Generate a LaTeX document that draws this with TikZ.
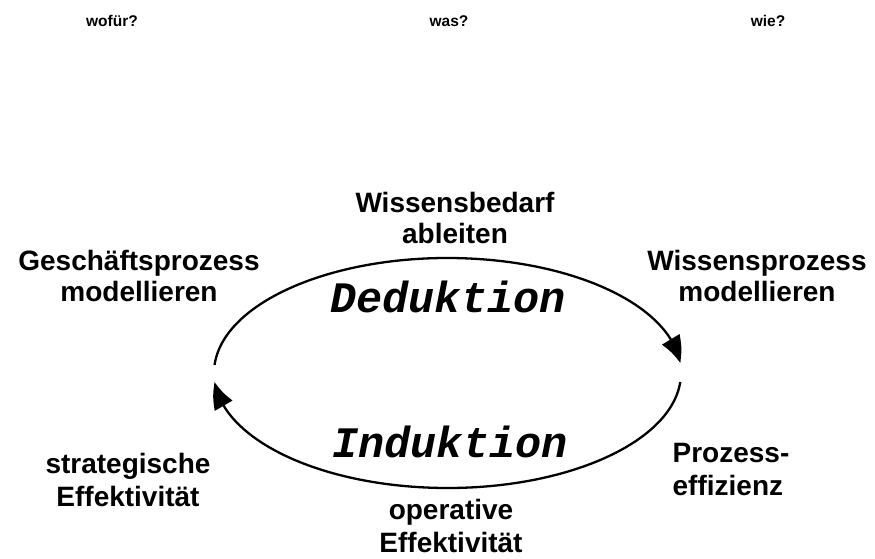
\documentclass[tikz,border=0pt]{standalone}
\usepackage{fontspec}
\setmainfont{Liberation Sans}
\newfontfamily\modusfont{Liberation Mono}
\usetikzlibrary{arrows.meta,bending,calc}
\tikzset{
  frage/.style={font=\fontsize{15.5}{17}\selectfont\bfseries,inner sep=0pt},
  schritt/.style={font=\fontsize{28}{31}\selectfont\bfseries,align=center,inner sep=0pt},
  weit/.style={font=\fontsize{28}{33}\selectfont\bfseries},
  modus/.style={font=\fontsize{43.5}{46}\selectfont\modusfont\bfseries\itshape,anchor=base,inner sep=0pt},
  kreis/.style={line width=2.3pt,-{Triangle[length=25pt,width=20pt,bend]}}
}

\begin{document}
\begin{tikzpicture}[x=1pt,y=-1pt]
  \useasboundingbox (0,0) rectangle (875,559);
  \node[frage] (wofuer) at (112,21) {wofür?};
  \node[frage] (was) at (449,21) {was?};
  \node[frage] (wie) at (768,21) {wie?};
  \node[schritt] (bedarf) at (455,218) {Wissensbedarf\\ableiten};
  \node[schritt] (geschaeft) at (139,276) {Geschäftsprozess\\modellieren};
  \node[schritt] (wissen) at (757,276) {Wissensprozess\\modellieren};
  \node[schritt,weit] (strategie) at (128,480) {strategische\\Effektivität};
  \node[schritt,weit,align=left] (effizienz) at (731,470) {Prozess-\\effizienz};
  \node[schritt,weit] (operativ) at (451,526) {operative\\Effektivität};
  \node[modus] (deduktion) at (448,312) {Deduktion};
  \node[modus] (induktion) at (450,457) {Induktion};
  % Zyklus
  \coordinate (zentrum) at (447.5,373);
  \draw[kreis] ($(zentrum)+(184:233.5 and 115)$)
    arc[start angle=184,end angle=355,x radius=233.5,y radius=115];
  \draw[kreis] ($(zentrum)+(4.5:233.5 and 115)$)
    arc[start angle=4.5,end angle=175.5,x radius=233.5,y radius=115];
\end{tikzpicture}
\end{document}
